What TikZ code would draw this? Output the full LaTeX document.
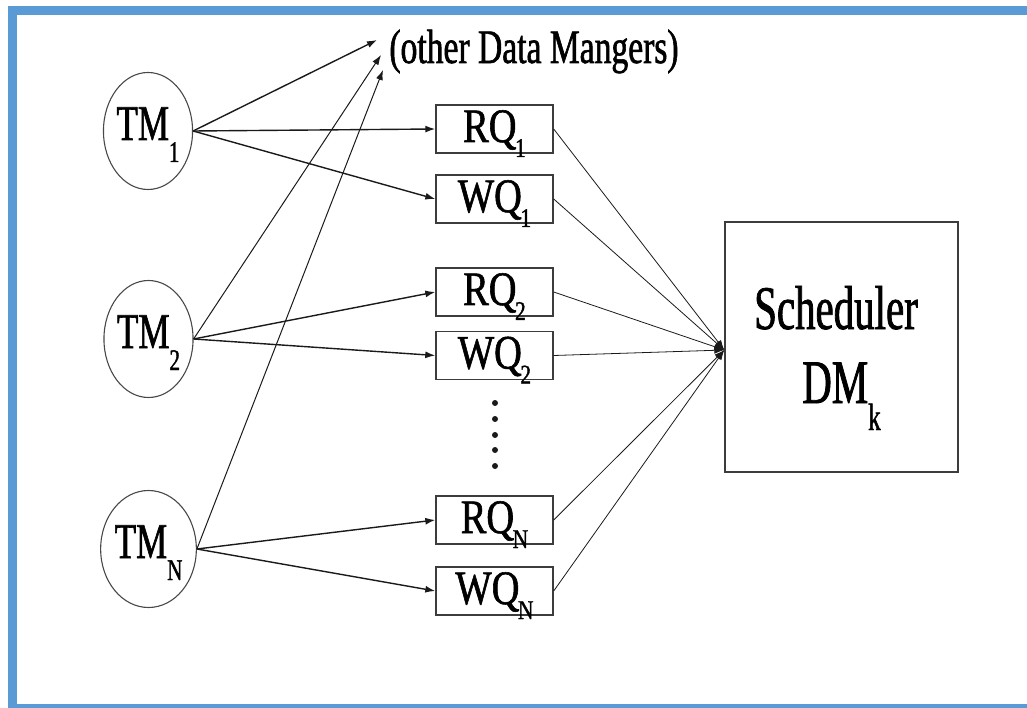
\documentclass[tikz,border=0pt]{standalone}
\usepackage{fontspec}
\usetikzlibrary{arrows.meta,shapes.geometric}
\newfontfamily\tmfont[FakeStretch=0.70,FakeBold=1.2]{Liberation Serif}
\newfontfamily\queuefont[FakeStretch=0.80,FakeBold=1.2]{Liberation Serif}
\newfontfamily\schfont[FakeStretch=0.66,FakeBold=1.2]{Liberation Serif}
\newcommand\sbs[3]{\raisebox{#2}{\fontsize{#1}{#1}\selectfont #3}}
\definecolor{frameblue}{HTML}{5B9BD5}
\definecolor{ink}{HTML}{1A1A1A}
\tikzset{
  tm/.style={ellipse, draw=ink!80, line width=1.1pt, minimum width=83pt, minimum height=117pt,
    inner sep=0pt, font=\tmfont\fontsize{50}{50}\selectfont, text height=24pt, text depth=6pt},
  qbox/.style={rectangle, draw=ink!85, line width=1.4pt, minimum width=117pt, minimum height=48pt,
    inner sep=0pt, font=\queuefont\fontsize{48}{48}\selectfont, text height=30pt, text depth=4pt},
  schbox/.style={rectangle, draw=ink!85, line width=1.4pt, minimum width=233pt, minimum height=250pt, inner sep=0pt},
  schtext/.style={anchor=base, inner sep=0pt, font=\schfont\fontsize{62}{62}\selectfont},
  othertext/.style={anchor=base, inner sep=0pt, font=\tmfont\fontsize{48}{48}\selectfont},
  arr/.style={-{Latex[length=10pt,width=7pt]}, line width=1.4pt, draw=ink},
  tarr/.style={-{Latex[length=10pt,width=7pt]}, line width=1pt, draw=ink},
  farr/.style={-{Latex[length=10pt,width=7pt]}, line width=0.8pt, draw=ink},
}
\begin{document}
\begin{tikzpicture}[x=1pt,y=-1pt]
\useasboundingbox (0,0) rectangle (1027,708);
\clip (0,0) rectangle (1027,708);
\draw[frameblue, line width=9pt] (12,10.5) rectangle (1045,708.5);

% TM nodes
\node[tm] (tm1) at (148,131) {TM\sbs{30}{-22pt}{1}};
\node[tm] (tm2) at (148.5,339) {TM\sbs{30}{-22pt}{2}};
\node[tm] (tmn) at (148.5,549) {TM\sbs{30}{-22pt}{N}};

% queues
\node[qbox] (rq1) at (494.5,129) {RQ\kern-1.5pt\sbs{27}{-15pt}{1}};
\node[qbox] (wq1) at (494.5,199) {WQ\kern-1.5pt\sbs{27}{-15pt}{1}};
\node[qbox] (rq2) at (494.5,292) {RQ\kern-1.5pt\sbs{27}{-15pt}{2}};
\node[qbox] (wq2) at (494.5,355.5) {WQ\kern-1.5pt\sbs{27}{-15pt}{2}};
\node[qbox] (rqn) at (494.5,520) {RQ\kern-1.5pt\sbs{27}{-15pt}{N}};
\node[qbox] (wqn) at (494.5,591) {WQ\kern-1.5pt\sbs{27}{-15pt}{N}};

\foreach \yy in {403,419,435,450,466} \fill[ink] (495,\yy) circle (3pt);

% scheduler
\node[schbox] (sch) at (841.5,347) {};
\node[schtext] (schl1) at (836,329) {Scheduler};
\node[schtext] (schl2) at (841.5,403) {DM\sbs{38}{-27pt}{k}};
\coordinate (tgt) at ([yshift=-3pt]sch.west);

% other data managers
\node[othertext] (other) at (534,63) {(other Data Mangers)};
\coordinate (o1) at (377,40);
\coordinate (o2) at (381,55);
\coordinate (o3) at (383,70);

% arrows from TMs
\draw[arr] (tm1.east) -- (o1);
\draw[arr] (tm1.east) -- (rq1.west);
\draw[arr] (tm1.east) -- (wq1.west);
\draw[tarr] (tm2.east) -- (o2);
\draw[arr] (tm2.east) -- (rq2.west);
\draw[arr] (tm2.east) -- (wq2.west);
\draw[tarr] (tmn.east) -- (o3);
\draw[arr] (tmn.east) -- (rqn.west);
\draw[arr] (tmn.east) -- (wqn.west);

% arrows to scheduler
\foreach \q in {rq1,wq1,rq2,wq2,rqn,wqn} \draw[farr] (\q.east) -- (tgt);
\end{tikzpicture}
\end{document}
